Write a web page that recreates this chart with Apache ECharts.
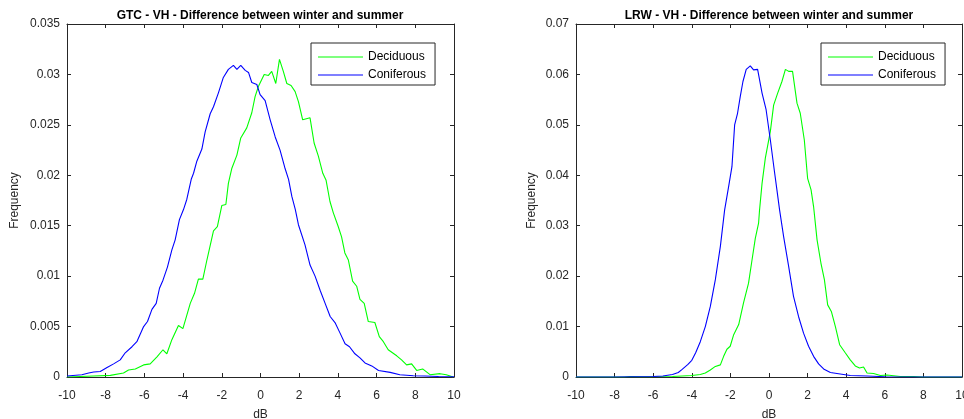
<!DOCTYPE html>
<html>
<head>
<meta charset="utf-8">
<script src="https://cdn.jsdelivr.net/npm/echarts@6/dist/echarts.min.js"></script>
<style>
html,body{margin:0;padding:0;background:#fff;}
#chart{width:964px;height:419px;}
</style>
</head>
<body>
<div id="chart"></div>
<script>
// ---- Data ----
var titles = ['GTC - VH - Difference between winter and summer', 'LRW - VH - Difference between winter and summer'];
var seriesNames = ['Deciduous', 'Coniferous'];
var xTicks = [-10, -8, -6, -4, -2, 0, 2, 4, 6, 8, 10];
var gtcYMax = 0.035, gtcYStep = 0.005;
var lrwYMax = 0.07, lrwYStep = 0.01;

var gtcDecX = [-10, -8.62, -7.76, -7.08, -6.82, -6.47, -6.04, -5.7, -5.35, -5.04, -4.84, -4.58, -4.24, -4.01, -3.63, -3.41, -3.21, -2.98, -2.77, -2.43, -2.23, -2.0, -1.79, -1.66, -1.48, -1.22, -1.02, -0.71, -0.45, -0.28, -0.11, 0.19, 0.41, 0.58, 0.79, 0.98, 1.18, 1.36, 1.58, 1.79, 1.96, 2.18, 2.56, 2.77, 2.99, 3.22, 3.39, 3.59, 3.76, 4.02, 4.19, 4.36, 4.54, 4.76, 4.97, 5.14, 5.36, 5.57, 5.91, 6.14, 6.35, 6.6, 7.04, 7.29, 7.55, 7.81, 8.07, 8.38, 8.76, 9.28, 9.6, 9.96];
var gtcDecY = [0, 0.0001, 0.00016, 0.0004, 0.0007, 0.0008, 0.0012, 0.0013, 0.002, 0.0027, 0.0023, 0.0037, 0.0051, 0.0048, 0.0073, 0.0083, 0.0097, 0.0097, 0.0116, 0.0145, 0.0149, 0.017, 0.0171, 0.0192, 0.0207, 0.022, 0.0237, 0.0247, 0.0262, 0.0278, 0.0288, 0.03, 0.0299, 0.0303, 0.0291, 0.0315, 0.0303, 0.0291, 0.0289, 0.0283, 0.0273, 0.0255, 0.0257, 0.0232, 0.0219, 0.0202, 0.0195, 0.0174, 0.0163, 0.0149, 0.0139, 0.0123, 0.0116, 0.0095, 0.009, 0.0077, 0.0073, 0.0055, 0.0054, 0.004, 0.0035, 0.0027, 0.0021, 0.0017, 0.0012, 0.0013, 0.00065, 0.0008, 0.00023, 0.00033, 0.00023, 0];

var gtcConX = [-10, -9.23, -8.88, -8.62, -8.28, -7.93, -7.59, -7.25, -6.99, -6.64, -6.39, -6.04, -5.84, -5.61, -5.39, -5.22, -5.04, -4.81, -4.58, -4.41, -4.19, -3.98, -3.81, -3.58, -3.46, -3.29, -3.03, -2.86, -2.6, -2.43, -2.17, -1.92, -1.66, -1.4, -1.22, -1.02, -0.79, -0.62, -0.45, -0.19, -0.02, 0.24, 0.5, 0.76, 1.01, 1.25, 1.45, 1.62, 1.8, 1.96, 2.3, 2.56, 2.82, 3.08, 3.34, 3.6, 3.85, 4.1, 4.37, 4.6, 4.88, 5.14, 5.4, 5.75, 6.1, 6.7, 7.2, 7.9, 8.5, 9.2, 10];
var gtcConY = [0.0001, 0.00023, 0.0004, 0.0005, 0.00055, 0.00095, 0.0013, 0.0017, 0.0024, 0.003, 0.0035, 0.005, 0.0055, 0.0067, 0.0073, 0.0088, 0.0096, 0.0109, 0.0126, 0.0136, 0.0156, 0.0166, 0.0176, 0.0196, 0.0202, 0.0214, 0.0226, 0.0243, 0.0261, 0.0268, 0.0282, 0.0297, 0.0305, 0.0309, 0.0305, 0.0309, 0.0304, 0.0302, 0.0292, 0.029, 0.028, 0.0274, 0.0255, 0.0238, 0.0225, 0.0208, 0.0196, 0.0179, 0.0166, 0.0151, 0.0131, 0.0111, 0.01, 0.0086, 0.0073, 0.006, 0.0054, 0.0044, 0.0033, 0.003, 0.0023, 0.0019, 0.0014, 0.0011, 0.00065, 0.00046, 0.00023, 0.00013, 0.0001, 0.00005, 0.00003];

var lrwDecX = [-10, -7.5, -7.2, -6.5, -5, -4, -3.56, -3.3, -3.04, -2.78, -2.52, -2.35, -2.18, -2.01, -1.83, -1.57, -1.32, -1.06, -0.88, -0.71, -0.54, -0.49, -0.36, -0.19, 0.07, 0.24, 0.45, 0.67, 0.85, 1.02, 1.22, 1.45, 1.62, 1.83, 2.0, 2.18, 2.31, 2.49, 2.69, 2.87, 3.04, 3.23, 3.44, 3.66, 3.95, 4.21, 4.47, 4.69, 4.9, 5.08, 5.42, 5.77, 6.11, 6.8, 7.5, 8, 10];
var lrwDecY = [0, 0, 0.0001, 0.00005, 0.0001, 0.0003, 0.0005, 0.0008, 0.0014, 0.0021, 0.0024, 0.0041, 0.0055, 0.0061, 0.0084, 0.0104, 0.0147, 0.0186, 0.0232, 0.0275, 0.0305, 0.0331, 0.0384, 0.0434, 0.0487, 0.0539, 0.0563, 0.0586, 0.061, 0.0606, 0.0606, 0.0543, 0.0523, 0.047, 0.0394, 0.0371, 0.0338, 0.0272, 0.0226, 0.0193, 0.0143, 0.013, 0.01, 0.0064, 0.0048, 0.0034, 0.0022, 0.0018, 0.002, 0.0008, 0.0007, 0.0003, 0.0004, 0.0001, 0.0001, 0, 0];

var lrwConX = [-10, -8, -6, -5.5, -5, -4.7, -4.5, -4.2, -4, -3.8, -3.56, -3.3, -3.04, -2.78, -2.52, -2.3, -2.09, -1.92, -1.78, -1.63, -1.49, -1.35, -1.18, -0.97, -0.8, -0.59, -0.36, -0.15, 0.07, 0.27, 0.41, 0.55, 0.76, 1.02, 1.27, 1.53, 1.79, 2.05, 2.31, 2.57, 2.83, 3.18, 3.69, 4.21, 5.08, 6, 8, 10];
var lrwConY = [0, 0, 0.0001, 0.0002, 0.0005, 0.0009, 0.0015, 0.0025, 0.0033, 0.0048, 0.007, 0.01, 0.014, 0.0193, 0.0259, 0.0331, 0.0378, 0.0417, 0.05, 0.0523, 0.0556, 0.0586, 0.061, 0.0617, 0.0609, 0.061, 0.0563, 0.053, 0.047, 0.0411, 0.0371, 0.0331, 0.0278, 0.0219, 0.016, 0.012, 0.0087, 0.0061, 0.0041, 0.0026, 0.0016, 0.0009, 0.0006, 0.0003, 0.0002, 0.00005, 0, 0];

// ---- Chart ----
var FONT = 'Liberation Sans, Arial, Helvetica, sans-serif';
var AX = '#262626';
var COLORS = ['#00ff00', '#0000ff'];

function pairs(xs, ys) { return xs.map(function (x, i) { return [x, ys[i]]; }); }

var grids = [
  { left: 67, top: 24, width: 387, height: 353, containLabel: false, outerBoundsMode: 'none' },
  { left: 576, top: 24, width: 386, height: 353, containLabel: false, outerBoundsMode: 'none' }
];

function xAx(gi, pos, showLabels, name) {
  return {
    type: 'value', gridIndex: gi, position: pos, min: -10, max: 10, interval: 2,
    name: name || '', nameLocation: 'middle', nameGap: 32,
    nameTextStyle: { fontFamily: FONT, fontSize: 12, color: AX },
    axisLine: { show: true, onZero: false, lineStyle: { color: AX, width: 1 } },
    axisTick: { show: true, inside: true, length: 4, lineStyle: { color: AX } },
    axisLabel: { show: showLabels, fontFamily: FONT, fontSize: 12, color: AX, margin: 13,
      hideOverlap: false },
    splitLine: { show: false }
  };
}
function yAx(gi, pos, showLabels, max, step, name, gap) {
  return {
    type: 'value', gridIndex: gi, position: pos, min: 0, max: max, interval: step,
    name: name || '', nameLocation: 'middle', nameGap: gap || 40,
    nameTextStyle: { fontFamily: FONT, fontSize: 12, color: AX },
    axisLine: { show: true, onZero: false, lineStyle: { color: AX, width: 1 } },
    axisTick: { show: true, inside: true, length: 4, lineStyle: { color: AX } },
    axisLabel: { show: showLabels, fontFamily: FONT, fontSize: 12, color: AX, margin: 7,
      formatter: function (v) { return String(+v.toFixed(4)); } },
    splitLine: { show: false }
  };
}

function legendAt(left) {
  return {
    orient: 'vertical', left: left, top: 43,
    data: seriesNames.map(function (n) { return { name: n, icon: 'rect' }; }),
    backgroundColor: '#fff', borderColor: AX, borderWidth: 1,
    padding: [8, 9, 4, 7], itemGap: 6, itemWidth: 45, itemHeight: 1,
    textStyle: { fontFamily: FONT, fontSize: 12, color: '#000' },
    selectedMode: false
  };
}

function line(name, color, xi, yi, xs, ys) {
  return {
    type: 'line', name: name, xAxisIndex: xi, yAxisIndex: yi,
    data: pairs(xs, ys), symbol: 'none', showSymbol: false, smooth: false,
    lineStyle: { color: color, width: 1.1 }, itemStyle: { color: color },
    z: 3
  };
}

var option = {
  animation: false,
  backgroundColor: '#fff',
  textStyle: { fontFamily: FONT },
  title: [
    { text: titles[0], left: 260, top: 10, textAlign: 'center', padding: 0,
      textStyle: { fontFamily: FONT, fontSize: 12, fontWeight: 'bold', color: '#000' } },
    { text: titles[1], left: 769, top: 10, textAlign: 'center', padding: 0,
      textStyle: { fontFamily: FONT, fontSize: 12, fontWeight: 'bold', color: '#000' } }
  ],
  legend: [legendAt(311), legendAt(821)],
  grid: grids,
  xAxis: [
    xAx(0, 'bottom', true, 'dB'),
    xAx(0, 'top', false),
    xAx(1, 'bottom', true, 'dB'),
    xAx(1, 'top', false)
  ],
  yAxis: [
    yAx(0, 'left', true, gtcYMax, gtcYStep, 'Frequency', 46),
    yAx(0, 'right', false, gtcYMax, gtcYStep),
    yAx(1, 'left', true, lrwYMax, lrwYStep, 'Frequency', 38),
    yAx(1, 'right', false, lrwYMax, lrwYStep)
  ],
  series: [
    line(seriesNames[0], COLORS[0], 0, 0, gtcDecX, gtcDecY),
    line(seriesNames[1], COLORS[1], 0, 0, gtcConX, gtcConY),
    line(seriesNames[0], COLORS[0], 2, 2, lrwDecX, lrwDecY),
    line(seriesNames[1], COLORS[1], 2, 2, lrwConX, lrwConY)
  ]
};

var chart = echarts.init(document.getElementById('chart'), null, { renderer: 'canvas' });
chart.setOption(option);
</script>
</body>
</html>
